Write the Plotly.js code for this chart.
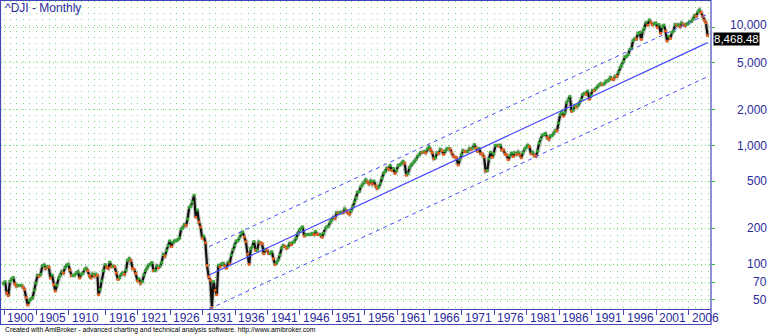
<!DOCTYPE html>
<html><head><meta charset="utf-8">
<script src="https://cdn.plot.ly/plotly-3.0.1.min.js"></script>
<style>html,body{margin:0;padding:0;background:#fff}#chart{width:770px;height:334px}</style>
</head><body><div id="chart"></div>
<script>
// Quarterly closes (Mar, Jun, Sep, Dec), per decade
const close1899 = [68]; // Dec 1899
const close1900s = [71,57,54,71, 74,77,68,65, 66,66,66,64, 61,52,45,49, 51,52,60,69,
  80,79,82,96, 98,92,95,94, 76,81,67,59, 66,76,80,86, 84,93,98,99];
const close1910s = [89,80,80,81, 84,86,76,82, 83,90,92,88, 80,76,82,79, 82,80,null,55,
  61,72,88,99, 94,92,104,95, 96,95,84,74, 77,82,84,82, 89,107,111,107];
const close1920s = [92,90,83,72, 75,69,71,81, 88,93,98,99, 103,88,88,96, 93,96,103,120,
  117,130,143,157, 140,152,157,157, 160,166,197,202, 214,211,240,300, 308,333,381,248];
const close1930s = [286,226,205,165, 172,151,97,78, 73,43,71,60, 55,98,95,100, 101,96,92,104,
  100,119,132,144, 156,157,167,180, 187,169,154,121, 99,134,141,155, 131,131,153,150];
const close1940s = [148,122,132,131, 123,123,127,111, 99,103,109,119, 136,143,141,136, 139,149,146,152,
  154,165,181,193, 199,206,172,177, 177,177,178,181, 177,189,178,177, 177,168,182,200];
const close1950s = [206,209,226,235, 248,243,271,269, 270,274,271,292, 280,268,264,281, 303,334,361,404,
  409,451,466,488, 512,493,475,500, 475,503,456,436, 446,478,532,584, 602,644,632,679];
const close1960s = [616,641,580,616, 676,684,701,731, 707,561,579,652, 683,707,733,763, 813,832,875,874,
  889,868,931,969, 924,870,774,786, 865,860,927,905, 840,898,936,944, 935,873,813,800];
const close1970s = [786,684,761,839, 904,891,887,890, 940,929,953,1020, 951,891,947,851, 847,802,608,616,
  768,879,794,852, 999,1003,990,1005, 919,916,847,831, 757,819,866,805, 862,842,879,839];
const close1980s = [786,868,932,964, 1004,977,850,875, 823,812,896,1047, 1130,1222,1233,1259, 1165,1132,1207,1212,
  1267,1336,1329,1547, 1819,1893,1768,1896, 2305,2419,2596,1939, 1989,2142,2113,2169, 2293,2440,2693,2753];
const close1990s = [2707,2881,2453,2634, 2914,2907,3017,3169, 3236,3319,3272,3301, 3436,3516,3555,3754, 3636,3625,3843,3834,
  4158,4556,4789,5117, 5588,5655,5882,6448, 6584,7673,7945,7908, 8800,8952,7843,9181, 9786,10971,10337,11497];
const close2000s = [10922,10448,10651,10787, 9879,10502,8848,10022, 10404,9243,7592,8342, 7992,8985,9275,10454,
  10358,10435,10080,10783, 10504,10275,10569,10718, 11109,11150,11679,12463, 12354,13409,13896,13265, 12263,11350,10851,8468.48];

const lastValue = 8468.48;
const labelYears = [1900,1905,1910,1916,1921,1926,1931,1936,1941,1946,1951,1956,1961,1966,1971,1976,1981,1986,1991,1996,2001,2006];
const yTickValues = [50,70,100,200,500,1000,2000,5000,10000];
const yTickText = ['50','70','100','200','500','1,000','2,000','5,000','10,000'];
// regression channel (start Jan 1932, end Dec 2008)
const channelDates = [[1932,0],[2008,11]];
const channelMid = [80.8, 7381];
const channelUpper = [140.5, 12833];
const channelLower = [41.7, 3811];

// bar-index style axis: exchange closed Aug-Nov 1914, those months are absent
function monthIndex(y, mo){
  let m = (y-1900)*12 + mo;
  if (y > 1914 || (y === 1914 && mo >= 11)) m -= 4;
  return m;
}

const quarterly = [].concat(close1900s, close1910s, close1920s, close1930s, close1940s,
  close1950s, close1960s, close1970s, close1980s, close1990s, close2000s);
const xs = [monthIndex(1899,11)], ys = [close1899[0]];
quarterly.forEach((v,i)=>{
  const y = 1900 + Math.floor(i/4), mo = 3*(i%4)+2;
  xs.push(monthIndex(y,mo)); ys.push(v);
});
const colors = [];
let prev = null;
ys.forEach(v=>{ colors.push(v===null ? '#000' : (prev===null || v>=prev ? '#35a535' : '#e2601e')); if(v!==null) prev=v; });

const blue = '#2b2b9b';
const frame = '#4646bb';
const gridc = 'rgb(125,220,125)';
const font = 'Liberation Sans, Arial, sans-serif';
const xRange = [-5.56, 1309.3];

const yearStarts = [];
for (let y=1900; y<=2009; y++) yearStarts.push(monthIndex(y,0));

const cx = channelDates.map(d=>monthIndex(d[0],d[1]));
const traces = [
  {x: cx, y: channelUpper, xaxis:'x2', mode:'lines', line:{color:'#4a4aff', width:1, dash:'4px,4px'}, hoverinfo:'skip'},
  {x: cx, y: channelLower, xaxis:'x2', mode:'lines', line:{color:'#4a4aff', width:1, dash:'4px,4px'}, hoverinfo:'skip'},
  {x: xs, y: ys, mode:'lines', connectgaps:true, line:{color:'rgba(0,0,0,0.2)', width:4.5}, hoverinfo:'skip'},
  {x: xs, y: ys, mode:'lines', connectgaps:true, line:{color:'#111', width:2.2}},
  {x: xs, y: ys, mode:'markers', marker:{color:colors, size:2.8, symbol:'square', line:{width:0}}},
  {x: cx, y: channelMid, xaxis:'x2', mode:'lines', line:{color:'#4a4aff', width:1.2}, hoverinfo:'skip'}
];

const annotations = [];
labelYears.forEach(y=>annotations.push({x: monthIndex(y,0), xref:'x', y:0, yref:'paper', yshift:-8.5, xshift:1,
  xanchor:'left', yanchor:'middle', text:String(y), showarrow:false, font:{family:font, size:12, color:blue}}));
yTickValues.forEach((v,i)=>annotations.push({x:(768-1)/710, xref:'paper', y:Math.log10(v), yref:'y', yshift:(v===10000?2.5:0),
  xanchor:'right', yanchor:'middle', text:yTickText[i], showarrow:false, borderpad:0, font:{family:font, size:12, color:blue}}));
annotations.push({x:(713-1)/710, xref:'paper', y:Math.log10(lastValue), yref:'y', yshift:-3, xanchor:'left', yanchor:'middle',
  text:lastValue.toLocaleString('en-US',{minimumFractionDigits:2}), showarrow:false, bgcolor:'#000', borderpad:0,
  font:{family:font, size:11.5, color:'#fff'}});
annotations.push({x:(3-1)/710, xref:'paper', y:1-(8.5-1)/308, yref:'paper', xanchor:'left', yanchor:'middle',
  text:'^DJI - Monthly', showarrow:false, font:{family:font, size:12, color:blue}});
annotations.push({x:(3-1)/710, xref:'paper', y:(309-329.5)/308, yref:'paper', xanchor:'left', yanchor:'middle',
  text:'Created with AmiBroker - advanced charting and technical analysis software. http://www.amibroker.com',
  showarrow:false, font:{family:font, size:6.8, color:'#000'}});

const layout = {
  width:770, height:334, margin:{l:1, r:59, t:1, b:25},
  paper_bgcolor:'#fff', plot_bgcolor:'#fff', showlegend:false,
  xaxis:{range:xRange, tickmode:'array', tickvals:yearStarts, showgrid:true, gridcolor:gridc, griddash:'1px,5px',
    gridwidth:1, ticks:'', showticklabels:false, zeroline:false, showline:true, linecolor:frame, linewidth:1, fixedrange:true},
  xaxis2:{range:xRange, overlaying:'x', anchor:'y', side:'bottom', tickmode:'array',
    tickvals:labelYears.map(y=>monthIndex(y,0)), ticks:'outside', ticklen:5, tickcolor:frame, tickwidth:1,
    showticklabels:false, showgrid:false, zeroline:false, showline:false},
  yaxis:{type:'log', range:[1.6203, 4.2194], side:'right', tickmode:'array', tickvals:yTickValues,
    showticklabels:false, ticks:'outside', ticklen:3, tickcolor:'#33bb33', showgrid:true, gridcolor:gridc,
    griddash:'1px,3px', zeroline:false, showline:false},
  shapes:[{type:'rect', xref:'paper', yref:'paper', x0:-0.5/710, x1:1, y0:(309-324.5)/308, y1:1+0.5/308,
    line:{color:frame, width:1.2}}],
  annotations: annotations
};
Plotly.newPlot('chart', traces, layout, {displayModeBar:false, staticPlot:true});
</script></body></html>
